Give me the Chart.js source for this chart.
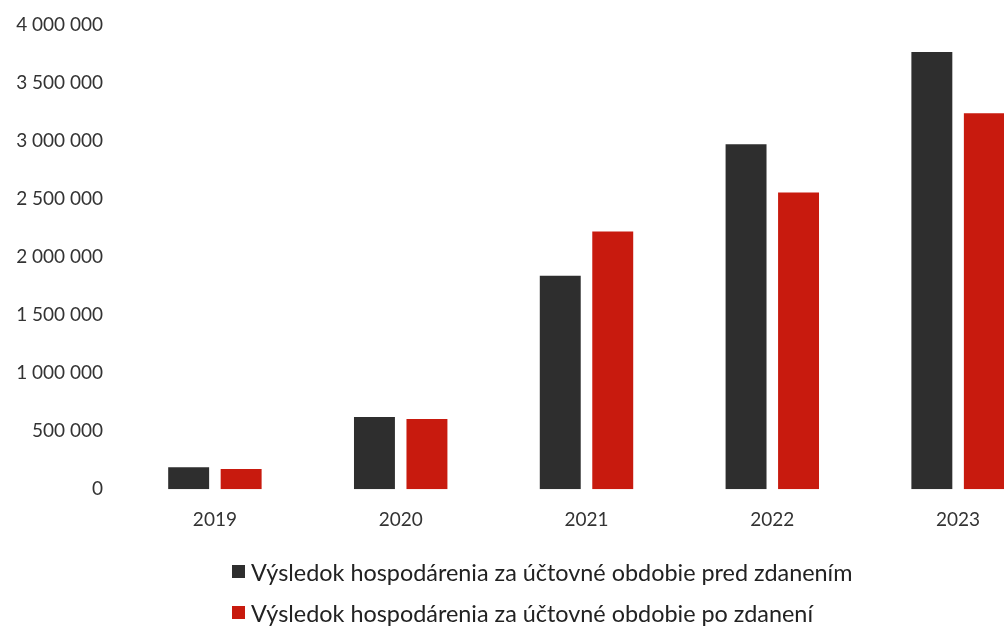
<!DOCTYPE html>
<html>
<head>
<meta charset="utf-8">
<script src="https://cdn.jsdelivr.net/npm/chart.js@4/dist/chart.umd.min.js"></script>
<style>
  html, body { margin: 0; padding: 0; background: #fff; overflow: hidden; width: 1004px; height: 627px; }
  #wrap { position: relative; width: 1060px; height: 560px; }
  #legend { position: absolute; left: 232px; top: 551px; font-family: Lato, "Open Sans", sans-serif; font-size: 23.4px; color: #222; }
  .item { height: 41px; display: flex; align-items: center; white-space: nowrap; }
  .box { width: 13px; height: 13px; margin-right: 6px; }
</style>
</head>
<body>
<div id="wrap"><canvas id="chart" width="1060" height="560"></canvas></div>
<div id="legend"></div>
<script>
// roky
const years = ['2019', '2020', '2021', '2022', '2023'];
// výsledok hospodárenia pred zdanením / po zdanení (odčítané z grafu)
const predZdanenim = [190000, 622000, 1840000, 2972000, 3767000];
const poZdaneni = [173000, 605000, 2220000, 2557000, 3240000];
const seriesLabels = [
    'Výsledok hospodárenia za účtovné obdobie pred zdanením',
    'Výsledok hospodárenia za účtovné obdobie po zdanení'
];
const colors = ['#2e2e2e', '#c81a0e'];

const fmt = (v) => v.toString().replace(/\B(?=(\d{3})+(?!\d))/g, ' ');

const ctx = document.getElementById('chart').getContext('2d');
const chart = new Chart(ctx, {
    type: 'bar',
    data: {
        labels: years,
        datasets: [
            { label: seriesLabels[0], data: predZdanenim, backgroundColor: colors[0] },
            { label: seriesLabels[1], data: poZdaneni, backgroundColor: colors[1] }
        ]
    },
    options: {
        responsive: false,
        animation: false,
        categoryPercentage: 0.565,
        barPercentage: 0.78,
        layout: { padding: { top: 25, right: 9, bottom: 10, left: 0 } },
        plugins: {
            legend: { display: false },
            tooltip: { enabled: false }
        },
        scales: {
            x: {
                grid: { display: false, drawTicks: false },
                border: { display: false },
                ticks: { color: '#333', padding: 19, font: { family: 'Lato', size: 19 } }
            },
            y: {
                min: 0,
                max: 4000000,
                grid: { display: false, drawTicks: false },
                border: { display: false },
                afterFit: (s) => {
                    s.width = 122;
                    s.paddingTop = 0;
                    s.paddingBottom = 0;
                },
                ticks: {
                    stepSize: 500000,
                    color: '#333',
                    padding: 19,
                    font: { family: 'Lato', size: 19 },
                    callback: (v) => fmt(v)
                }
            }
        }
    }
});

// legenda pod grafom
const legend = document.getElementById('legend');
chart.data.datasets.forEach((ds) => {
    const row = document.createElement('div');
    row.className = 'item';
    const box = document.createElement('span');
    box.className = 'box';
    box.style.background = ds.backgroundColor;
    const txt = document.createElement('span');
    txt.textContent = ds.label;
    row.appendChild(box);
    row.appendChild(txt);
    legend.appendChild(row);
});
</script>
</body>
</html>
